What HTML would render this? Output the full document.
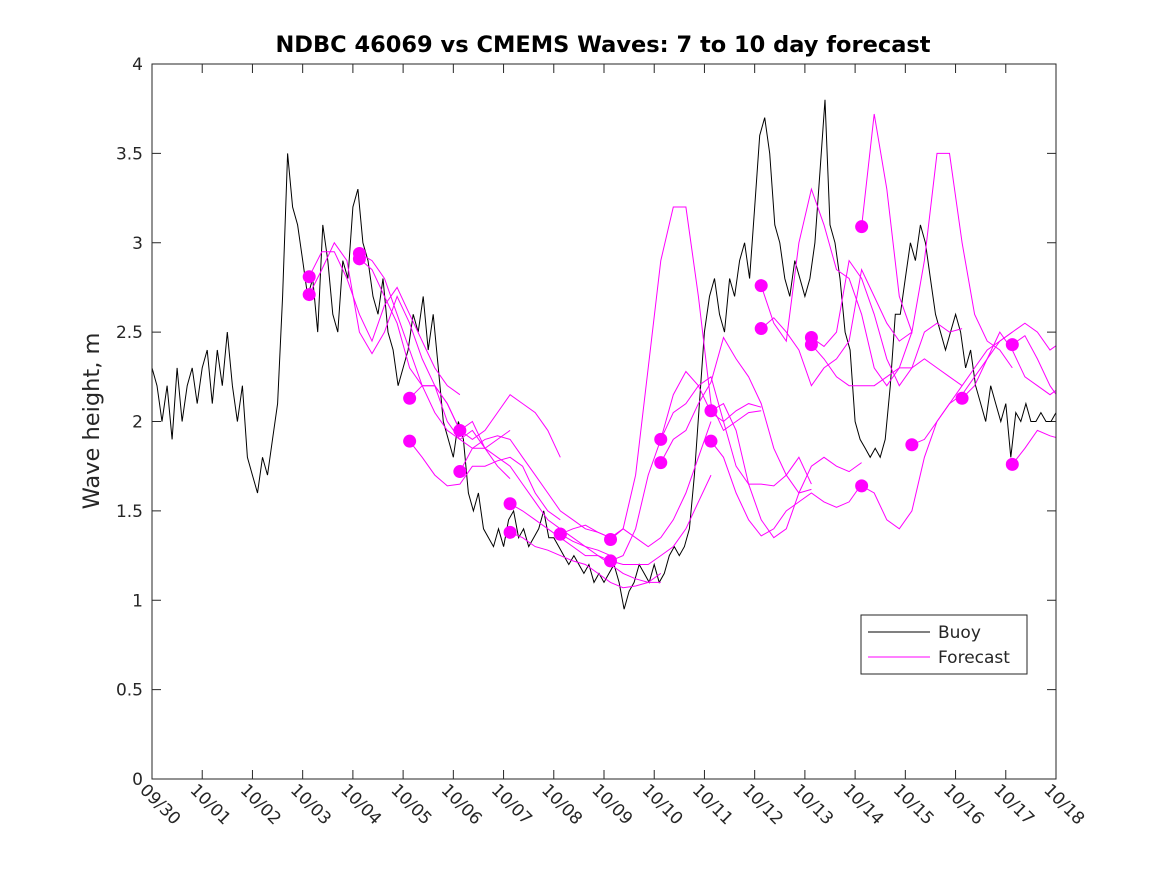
<!DOCTYPE html>
<html><head><meta charset="utf-8"><style>
body{margin:0;background:#fff;}
svg text{font-family:"DejaVu Sans","Liberation Sans",sans-serif;fill:#262626;}
</style></head><body>
<svg id="chart" width="1167" height="875" xmlns="http://www.w3.org/2000/svg">
<rect width="1167" height="875" fill="#fff"/>
<text x="603" y="52" text-anchor="middle" font-size="22.5" font-weight="bold" style="fill:#000">NDBC 46069 vs CMEMS Waves: 7 to 10 day forecast</text>
<text transform="translate(99,421) rotate(-90)" text-anchor="middle" font-size="22.5">Wave height, m</text>
<defs><clipPath id="clip"><rect x="152" y="64" width="904" height="715"/></clipPath></defs>
<g id="axes"></g>
<g id="buoy" clip-path="url(#clip)"></g>
<g id="fc" clip-path="url(#clip)"></g>
<rect x="152" y="64" width="904" height="715" fill="none" stroke="#262626" stroke-width="1"/>
<g>
<rect x="861" y="615" width="166" height="59" fill="#fff" stroke="#262626"/>
<line x1="868" y1="632" x2="930" y2="632" stroke="#000"/>
<text x="938" y="638" font-size="17">Buoy</text>
<line x1="868" y1="657" x2="930" y2="657" stroke="#ff00ff"/>
<text x="938" y="663" font-size="17">Forecast</text>
</g>
</svg>
<script>
const xTickLabels=["09/30","10/01","10/02","10/03","10/04","10/05","10/06","10/07","10/08","10/09","10/10","10/11","10/12","10/13","10/14","10/15","10/16","10/17","10/18"];
const yTicks=[0,0.5,1,1.5,2,2.5,3,3.5,4];
const yTickLabels=["0","0.5","1","1.5","2","2.5","3","3.5","4"];
const buoyStep=0.1;
const buoyValues=[2.3,2.2,2.0,2.2,1.9,2.3,2.0,2.2,2.3,2.1,
2.3,2.4,2.1,2.4,2.2,2.5,2.2,2.0,2.2,1.8,
1.7,1.6,1.8,1.7,1.9,2.1,2.7,3.5,3.2,3.1,
2.9,2.7,2.8,2.5,3.1,2.9,2.6,2.5,2.9,2.8,
3.2,3.3,3.0,2.9,2.7,2.6,2.8,2.5,2.4,2.2,
2.3,2.4,2.6,2.5,2.7,2.4,2.6,2.3,2.0,1.9,
1.8,2.0,1.9,1.6,1.5,1.6,1.4,1.35,1.3,1.4,
1.3,1.45,1.5,1.35,1.4,1.3,1.35,1.4,1.5,1.35,
1.35,1.3,1.25,1.2,1.25,1.2,1.15,1.2,1.1,1.15,
1.1,1.15,1.2,1.1,0.95,1.05,1.1,1.2,1.15,1.1,
1.2,1.1,1.15,1.25,1.3,1.25,1.3,1.4,1.7,2.1,
2.5,2.7,2.8,2.6,2.5,2.8,2.7,2.9,3.0,2.8,
3.2,3.6,3.7,3.5,3.1,3.0,2.8,2.7,2.9,2.8,
2.7,2.8,3.0,3.4,3.8,3.1,3.0,2.8,2.5,2.4,
2.0,1.9,1.85,1.8,1.85,1.8,1.9,2.2,2.6,2.6,
2.8,3.0,2.9,3.1,3.0,2.8,2.6,2.5,2.4,2.5,
2.6,2.5,2.3,2.4,2.2,2.1,2.0,2.2,2.1,2.0,
2.1,1.8,2.05,2.0,2.1,2.0,2.0,2.05,2.0,2.0,2.05];
const fcStep=0.25;
const fcStarts=[3.13,3.13,4.13,4.13,5.13,5.13,6.13,6.13,7.13,7.13,8.13,8.13,9.13,9.13,10.13,10.13,11.13,11.13,12.13,12.13,13.13,13.13,14.13,14.13,15.13,16.13,17.13,17.13];
const fcValues=[
[2.81,2.95,2.95,2.8,2.6,2.45,2.65,2.75,2.6,2.45,2.3,2.2,2.15],
[2.71,2.85,3.0,2.9,2.5,2.38,2.5,2.7,2.55,2.35,2.2,2.1,1.95],
[2.94,2.9,2.8,2.6,2.4,2.2,2.05,1.95,1.9,1.95,1.85,1.75,1.68],
[2.91,2.85,2.7,2.55,2.3,2.2,2.2,2.0,1.9,1.85,1.85,1.9,1.95],
[2.13,2.2,2.2,2.1,1.95,1.9,1.95,2.05,2.15,2.1,2.05,1.95,1.8],
[1.89,1.8,1.7,1.64,1.65,1.75,1.75,1.78,1.8,1.75,1.6,1.5,1.45],
[1.72,1.85,1.9,1.92,1.9,1.8,1.7,1.6,1.5,1.45,1.4,1.38,1.35],
[1.95,2.0,1.85,1.8,1.75,1.65,1.55,1.45,1.4,1.35,1.3,1.28,1.25],
[1.54,1.5,1.45,1.4,1.35,1.3,1.25,1.25,1.2,1.15,1.12,1.1,1.1],
[1.38,1.35,1.3,1.28,1.25,1.22,1.2,1.15,1.1,1.07,1.08,1.1,1.15],
[1.37,1.4,1.42,1.38,1.35,1.4,1.35,1.3,1.35,1.45,1.6,1.8,2.0],
[1.37,1.33,1.3,1.25,1.22,1.2,1.2,1.2,1.25,1.3,1.4,1.55,1.7],
[1.34,1.4,1.7,2.3,2.9,3.2,3.2,2.7,2.1,1.95,2.0,2.05,2.06],
[1.22,1.25,1.4,1.7,1.9,2.15,2.28,2.2,2.05,2.0,2.06,2.1,2.08],
[1.9,2.05,2.1,2.2,2.25,2.0,1.75,1.65,1.65,1.64,1.7,1.8,1.65],
[1.77,1.9,1.95,2.1,2.22,2.47,2.35,2.25,2.1,1.85,1.7,1.6,1.62],
[2.06,2.1,1.95,1.65,1.45,1.35,1.4,1.6,1.75,1.8,1.75,1.72,1.77],
[1.89,1.8,1.6,1.45,1.36,1.4,1.5,1.55,1.6,1.55,1.52,1.55,1.65],
[2.76,2.55,2.45,3.0,3.3,3.1,2.85,2.8,2.6,2.3,2.2,2.3,2.5],
[2.52,2.58,2.5,2.4,2.2,2.3,2.35,2.45,2.85,2.7,2.55,2.45,2.5],
[2.47,2.42,2.5,2.9,2.8,2.6,2.35,2.2,2.3,2.5,2.55,2.5,2.52],
[2.43,2.35,2.25,2.2,2.2,2.2,2.25,2.3,2.3,2.35,2.3,2.25,2.2],
[3.09,3.72,3.3,2.7,2.5,2.9,3.5,3.5,3.0,2.6,2.45,2.4,2.3],
[1.64,1.6,1.45,1.4,1.5,1.8,2.0,2.1,2.2,2.3,2.4,2.45,2.5],
[1.87,1.9,2.0,2.1,2.15,2.25,2.35,2.45,2.5,2.55,2.5,2.4,2.45],
[2.13,2.2,2.35,2.5,2.4,2.25,2.2,2.15,2.2,2.2,2.1,2.05,2.1],
[2.43,2.48,2.35,2.2,2.1,2.05,2.05],
[1.76,1.85,1.95,1.92,1.9,2.0,2.1]];
const X0=152,X1=1056,Y0=779,Y1=64;
const xs=d=>X0+d*(X1-X0)/18;
const ys=v=>Y0-v*(Y0-Y1)/4;
const NS="http://www.w3.org/2000/svg";
function mk(tag,attrs,parent){const e=document.createElementNS(NS,tag);for(const k in attrs)e.setAttribute(k,attrs[k]);parent.appendChild(e);return e;}
const axes=document.getElementById('axes');
xTickLabels.forEach((t,i)=>{
  const x=xs(i);
  const l1=mk('line',{x1:x,y1:Y0,x2:x,y2:Y0-9,stroke:'#262626'},axes);
  
  
  const l2=mk('line',{x1:x,y1:Y1,x2:x,y2:Y1+9,stroke:'#262626'},axes);
  
  
  const tx=mk('text',{transform:`translate(${x-13},${Y0+12}) rotate(45)`,'font-size':17},axes);
  tx.textContent=t;
  
  
});
yTicks.forEach((v,i)=>{
  const y=ys(v);
  const l1=mk('line',{x1:X0,y1:y,x2:X0+9,y2:y,stroke:'#262626'},axes);
  
  
  const l2=mk('line',{x1:X1,y1:y,x2:X1-9,y2:y,stroke:'#262626'},axes);
  
  
  const tx=mk('text',{x:X0-9,y:y+6,'text-anchor':'end','font-size':17},axes);
  tx.textContent=yTickLabels[i];
  
  
});
const bg=document.getElementById('buoy');
const bp=mk('polyline',{points:buoyValues.map((v,i)=>xs(i*buoyStep).toFixed(1)+','+ys(v).toFixed(1)).join(' '),fill:'none',stroke:'#000','stroke-width':1},bg);


const fg=document.getElementById('fc');
fcValues.forEach((vals,s)=>{
  const st=fcStarts[s];
  const pl=mk('polyline',{points:vals.map((v,i)=>xs(st+i*fcStep).toFixed(1)+','+ys(v).toFixed(1)).join(' '),fill:'none',stroke:'#ff00ff','stroke-width':1},fg);
  
  
});
fcValues.forEach((vals,s)=>{
  const c=mk('circle',{cx:xs(fcStarts[s]),cy:ys(vals[0]),r:6.5,fill:'#ff00ff'},fg);
  
  
});
</script>
</body></html>
